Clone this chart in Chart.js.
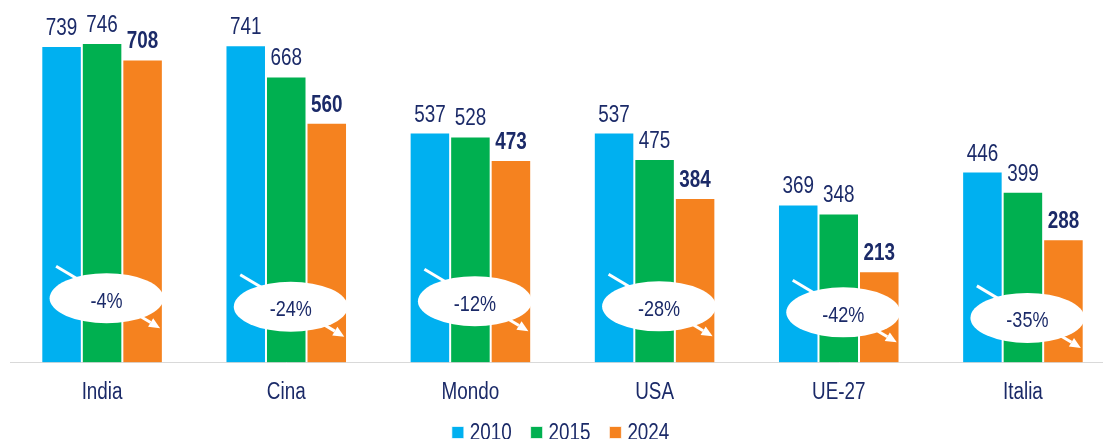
<!DOCTYPE html>
<html><head><meta charset="utf-8">
<script src="https://cdn.jsdelivr.net/npm/chart.js@4.4.1/dist/chart.umd.min.js"></script>
<style>
html,body{margin:0;padding:0;background:#fff;overflow:hidden;}
#wrap{position:relative;width:1120px;height:454px;}
</style></head><body>
<div id="wrap"><canvas id="c" width="1120" height="454"></canvas></div>
<script>
const categories = ['India', 'Cina', 'Mondo', 'USA', 'UE-27', 'Italia'];
const seriesNames = ['2010', '2015', '2024'];
const values2010 = [739, 741, 537, 537, 369, 446];
const values2015 = [746, 668, 528, 475, 348, 399];
const values2024 = [708, 560, 473, 384, 213, 288];
const changeLabels = ['-4%', '-24%', '-12%', '-28%', '-42%', '-35%'];

const FONT = '"Liberation Sans", Arial, sans-serif';
const NAVY = '#1B2A68';
const colors = ['#00B0F0', '#00B050', '#F5821F'];
const NARROW = 0.82;

function narrowText(ctx, text, x, y, font) {
  ctx.save();
  ctx.font = font;
  ctx.fillStyle = NAVY;
  ctx.textAlign = 'center';
  ctx.textBaseline = 'alphabetic';
  ctx.translate(x, y);
  ctx.scale(NARROW, 1);
  ctx.fillText(text, 0, 0);
  ctx.restore();
}

const badgePlugin = {
  id: 'badges',
  afterDatasetsDraw(chart, args, opts) {
    const ctx = chart.ctx;
    const xs = chart.scales.x, ys = chart.scales.y;
    const levels = opts.levels;
    // data labels
    chart.data.datasets.forEach((ds, di) => {
      const meta = chart.getDatasetMeta(di);
      meta.data.forEach((bar, j) => {
        narrowText(ctx, String(ds.data[j]), bar.x, bar.y - 11,
          (di === 2 ? 'bold ' : '') + '23px ' + FONT);
      });
    });
    // arrows + ellipses
    ctx.save();
    categories.forEach((c, j) => {
      const gc = xs.getPixelForValue(j);
      const cy = ys.getPixelForValue(levels[j]);
      const cx = gc + 4.5;
      const x1 = gc - 46, y1 = cy - 32, x2 = gc + 58, y2 = cy + 30;
      ctx.strokeStyle = '#fff';
      ctx.fillStyle = '#fff';
      ctx.lineWidth = 3;
      const ang = Math.atan2(y2 - y1, x2 - x1);
      const hl = 11, hw = 5;
      const bx = x2 - hl * Math.cos(ang), by = y2 - hl * Math.sin(ang);
      ctx.beginPath();
      ctx.moveTo(x1, y1);
      ctx.lineTo(bx, by);
      ctx.stroke();
      ctx.beginPath();
      ctx.moveTo(x2, y2);
      ctx.lineTo(bx + hw * Math.sin(ang), by - hw * Math.cos(ang));
      ctx.lineTo(bx - hw * Math.sin(ang), by + hw * Math.cos(ang));
      ctx.closePath();
      ctx.fill();
      ctx.beginPath();
      ctx.ellipse(cx, cy, 57, 25, 0, 0, Math.PI * 2);
      ctx.fill();
      narrowText(ctx, changeLabels[j], cx, cy + 9.5, '22px ' + FONT);
    });
    ctx.restore();
  },
  afterDraw(chart) {
    const ctx = chart.ctx;
    const xs = chart.scales.x;
    const bottom = chart.chartArea.bottom;
    // category labels
    categories.forEach((c, j) => {
      narrowText(ctx, c, xs.getPixelForValue(j), bottom + 37, '23px ' + FONT);
    });
    // legend texts
    const lg = chart.legend;
    if (lg && lg.legendHitBoxes) {
      lg.legendHitBoxes.forEach((hb, i) => {
        const cyy = hb.top + hb.height / 2;
        ctx.save();
        ctx.font = '23px ' + FONT;
        ctx.fillStyle = NAVY;
        ctx.textAlign = 'left';
        ctx.textBaseline = 'alphabetic';
        ctx.translate(hb.left + 18, cyy + 7);
        ctx.scale(NARROW, 1);
        ctx.fillText(seriesNames[i], 0, 0);
        ctx.restore();
      });
    }
  }
};

new Chart(document.getElementById('c'), {
  type: 'bar',
  data: {
    labels: categories,
    datasets: [values2010, values2015, values2024].map((v, i) => ({
      label: seriesNames[i],
      data: v,
      backgroundColor: colors[i],
      borderColor: 'rgba(255,255,255,0.7)',
      borderWidth: 1,
      categoryPercentage: 0.66,
      barPercentage: 1
    }))
  },
  options: {
    responsive: false,
    devicePixelRatio: 1,
    animation: false,
    layout: { padding: { left: 10, right: 5, top: 20, bottom: 2 } },
    scales: {
      x: {
        grid: { display: false },
        border: { display: true, color: '#D9D9D9', width: 1 },
        ticks: { color: 'rgba(0,0,0,0)', font: { family: FONT, size: 23 }, padding: 5 }
      },
      y: { display: false, min: 0, max: 800 }
    },
    plugins: {
      legend: {
        position: 'bottom',
        labels: {
          color: 'rgba(0,0,0,0)',
          font: { family: FONT, size: 19 },
          boxWidth: 12, boxHeight: 12, padding: 15
        }
      },
      tooltip: { enabled: false },
      badges: { levels: [150, 130, 143, 131, 117, 104] }
    }
  },
  plugins: [badgePlugin]
});
</script>
</body></html>
